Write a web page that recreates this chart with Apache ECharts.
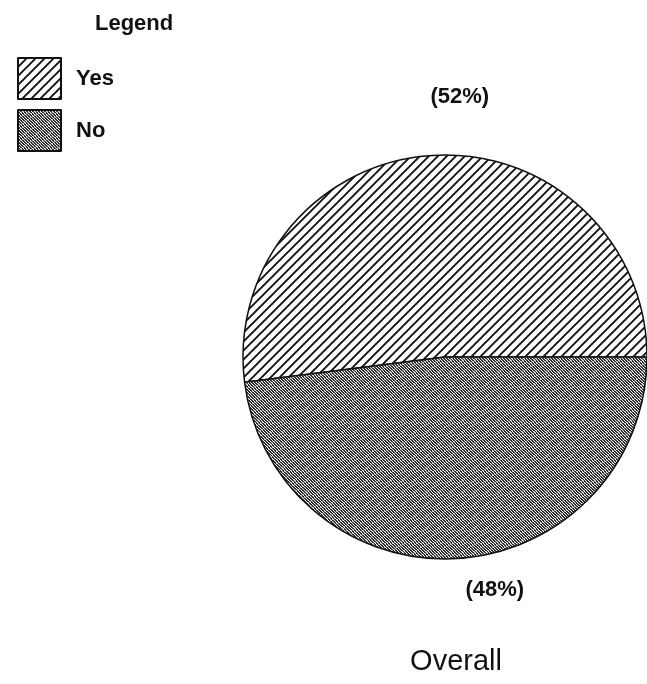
<!DOCTYPE html>
<html>
<head>
<meta charset="utf-8">
<script src="https://cdn.jsdelivr.net/npm/echarts@6/dist/echarts.min.js"></script>
<style>
html, body { margin: 0; padding: 0; background: #fff; }
#pie { width: 647px; height: 684px; }
</style>
</head>
<body>
<div id="pie"></div>
<script>
// answers and their shares (percent)
var categories = ['Yes', 'No'];
var shares = [52, 48];
var chartTitle = 'Overall';
var legendTitle = 'Legend';

var font = 'Liberation Sans, Arial, Helvetica, sans-serif';

// diagonal hatch for "Yes"
function hatchPattern() {
    var c = document.createElement('canvas');
    c.width = 9; c.height = 9;
    var ctx = c.getContext('2d');
    ctx.fillStyle = '#fff';
    ctx.fillRect(0, 0, 9, 9);
    ctx.strokeStyle = '#111';
    ctx.lineWidth = 1.9;
    ctx.beginPath();
    ctx.moveTo(-1, 10); ctx.lineTo(10, -1);
    ctx.moveTo(-1, 1); ctx.lineTo(1, -1);
    ctx.moveTo(8, 10); ctx.lineTo(10, 8);
    ctx.stroke();
    return c;
}

// dark dithered screen for "No"
function screenPattern() {
    var c = document.createElement('canvas');
    c.width = 12; c.height = 12;
    var ctx = c.getContext('2d');
    ctx.fillStyle = '#303030';
    ctx.fillRect(0, 0, 12, 12);
    for (var y = 0; y < 12; y++) {
        for (var x = 0; x < 12; x++) {
            if ((x - y + 12) % 3 === 0) {
                ctx.fillStyle = '#f0f0f0';
                ctx.fillRect(x, y, 1, 1);
            } else if ((x * 5 + y * 3) % 7 === 0) {
                ctx.fillStyle = '#a8a8a8';
                ctx.fillRect(x, y, 1, 1);
            }
        }
    }
    return c;
}

var fills = [
    { image: hatchPattern(), repeat: 'repeat' },
    { image: screenPattern(), repeat: 'repeat' }
];

var data = categories.map(function (name, i) {
    return { name: name, value: shares[i], itemStyle: { color: fills[i] } };
});

var pie = echarts.init(document.getElementById('pie'));

var option = {
    animation: false,
    backgroundColor: '#fff',
    title: [
        {
            text: legendTitle,
            left: 90, top: 8,
            textStyle: { fontFamily: font, fontSize: 22, fontWeight: 'bold', color: '#111' }
        },
        {
            text: chartTitle,
            left: 451, top: 642, textAlign: 'center',
            textStyle: { fontFamily: font, fontSize: 29, fontWeight: 'normal', color: '#111' }
        }
    ],
    legend: {
        orient: 'vertical',
        left: 12, top: 52,
        itemWidth: 43, itemHeight: 41,
        itemGap: 9,
        icon: 'rect',
        itemStyle: { borderColor: '#111', borderWidth: 2 },
        textStyle: { fontFamily: font, fontSize: 22, fontWeight: 'bold', color: '#111', padding: [0, 0, 0, 10] },
        data: categories
    },
    series: [
        {
            type: 'pie',
            center: [445, 357],
            radius: 202,
            startAngle: 187.2,
            clockwise: true,
            avoidLabelOverlap: false,
            itemStyle: { borderColor: '#111', borderWidth: 1.5 },
            label: {
                show: true,
                position: 'outside',
                formatter: function (p) { return '(' + p.value + '%)'; },
                fontFamily: font,
                fontSize: 22,
                fontWeight: 'bold',
                color: '#111'
            },
            labelLine: { show: false, length: 45, length2: 0 },
            labelLayout: function (params) {
                return { align: 'left', verticalAlign: 'middle', dx: params.dataIndex === 0 ? 6 : 0, dy: -14 };
            },
            emphasis: { disabled: true },
            data: data
        }
    ]
};

pie.setOption(option);
</script>
</body>
</html>
